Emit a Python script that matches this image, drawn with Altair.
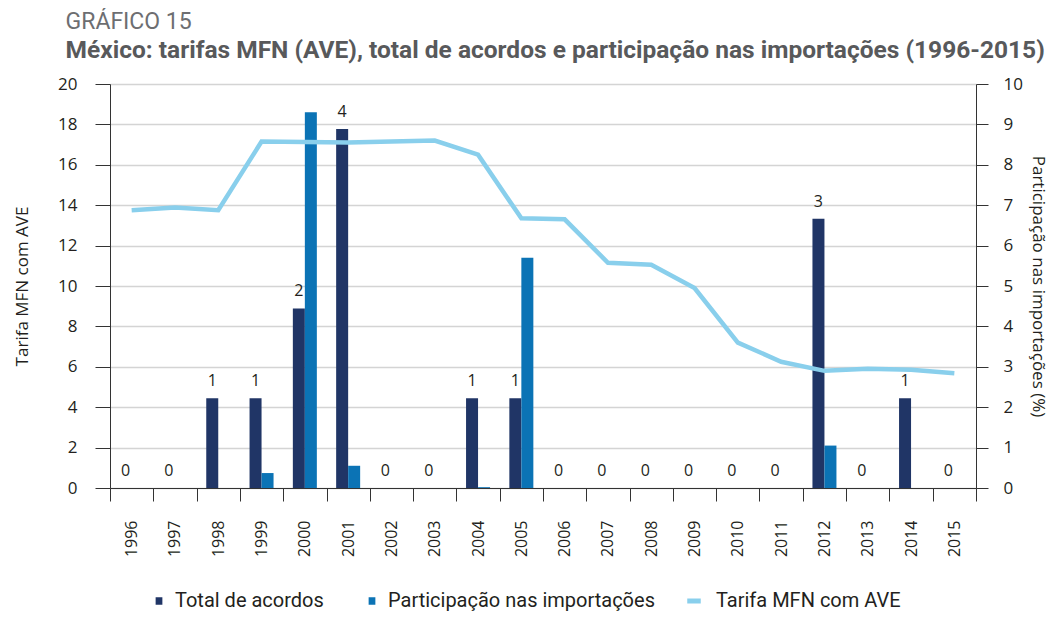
import altair as alt
import pandas as pd

years = ["1996", "1997", "1998", "1999", "2000", "2001", "2002", "2003", "2004", "2005",
         "2006", "2007", "2008", "2009", "2010", "2011", "2012", "2013", "2014", "2015"]
acordos = [0, 0, 1, 1, 2, 4, 0, 0, 1, 1, 0, 0, 0, 0, 0, 0, 3, 0, 1, 0]
participacao = [0, 0, 0, 0.37, 9.3, 0.55, 0, 0, 0.02, 5.7, 0, 0, 0, 0, 0, 0, 1.05, 0, 0, 0]
tarifa = [13.75, 13.88, 13.75, 17.15, 17.13, 17.1, 17.15, 17.2, 16.5, 13.35,
          13.3, 11.15, 11.05, 9.9, 7.2, 6.25, 5.8, 5.9, 5.85, 5.68]

bar_names = ["Total de acordos", "Participação nas importações"]
bar_colors = ["#203566", "#0b73b5"]
line_names = ["Tarifa MFN com AVE"]
line_colors = ["#89cfec"]

df = pd.DataFrame({"ano": years, "acordos": acordos,
                   "participacao": participacao, "tarifa": tarifa})

FONT = "Open Sans"
NARROW = "Roboto"
TXT = "#231f20"

fill_scale = alt.Scale(domain=bar_names, range=bar_colors)
stroke_scale = alt.Scale(domain=line_names, range=line_colors)

bar_legend = alt.Legend(
    title=None, orient="none", legendX=39, legendY=507, direction="horizontal",
    columnPadding=38, labelFont=NARROW, labelFontSize=20, labelColor=TXT,
    labelOffset=6, labelLimit=400, symbolSize=225,
    symbolType="M-0.45,-0.5H0.45V0.5H-0.45Z", symbolStrokeWidth=0, symbolOpacity=1,
)
line_legend = alt.Legend(
    title=None, orient="none", legendX=574, legendY=507, direction="horizontal",
    labelFont=NARROW, labelFontSize=20, labelColor=TXT, labelOffset=12, labelLimit=400,
    symbolSize=225, symbolType="M-0.9,0H0.9", symbolStrokeWidth=5, symbolOpacity=1,
)

x = alt.X("ano:N", sort=years, scale=alt.Scale(paddingInner=0, paddingOuter=0),
          axis=alt.Axis(title=None, labelAngle=-90, tickBand="extent", tickSize=13,
                        labelPadding=19, domainColor="#333333", tickColor="#333333",
                        labelFont=FONT, labelFontSize=16, labelColor=TXT))

base = alt.Chart(df)

y_acordo = alt.Y("acordos:Q", scale=alt.Scale(domain=[0, 4.5]), axis=None)

acordo_bar = base.transform_calculate(serie="'Total de acordos'").mark_bar(
    size=12, xOffset=-6).encode(
    x=x, y=y_acordo,
    fill=alt.Fill("serie:N", scale=fill_scale, legend=bar_legend),
)
acordo_text = base.mark_text(xOffset=-6, dy=-17, font=FONT, fontSize=16, color=TXT).encode(
    x=x, y=y_acordo, text="acordos:Q"
)

part_bar = base.transform_calculate(serie="'Participação nas importações'").mark_bar(
    size=12, xOffset=6).encode(
    x=x,
    y=alt.Y("participacao:Q", scale=alt.Scale(domain=[0, 10]),
            axis=alt.Axis(orient="right", title="Participação nas importações (%)",
                          values=list(range(0, 11)), grid=False, tickSize=12,
                          labelPadding=15, titlePadding=6, domainColor="#333333",
                          tickColor="#333333", labelFont=FONT, labelFontSize=17,
                          labelColor=TXT, titleFont=FONT, titleFontSize=17,
                          titleFontWeight="normal", titleColor=TXT)),
    fill=alt.Fill("serie:N", scale=fill_scale, legend=bar_legend),
)

line = base.transform_calculate(serie="'Tarifa MFN com AVE'").mark_line(
    strokeWidth=4.5).encode(
    x=x,
    y=alt.Y("tarifa:Q", scale=alt.Scale(domain=[0, 20]),
            axis=alt.Axis(orient="left", title="Tarifa MFN com AVE",
                          values=list(range(0, 21, 2)), grid=True, gridColor="#d4d4d4",
                          gridWidth=1.5, tickSize=15, labelPadding=18, titlePadding=26,
                          domainColor="#333333", tickColor="#333333", labelFont=FONT,
                          labelFontSize=17, labelColor=TXT, titleFont=FONT,
                          titleFontSize=17, titleFontWeight="normal", titleColor=TXT)),
    stroke=alt.Stroke("serie:N", scale=stroke_scale, legend=line_legend),
)

chart = alt.layer(
    alt.layer(acordo_bar, acordo_text), part_bar, line
).resolve_scale(y="independent").properties(
    width=866, height=404,
    padding={"left": 5, "top": 2, "right": 4, "bottom": 0},
    title=alt.TitleParams(
        text="GRÁFICO 15",
        subtitle="México: tarifas MFN (AVE), total de acordos e participação nas importações (1996-2015)",
        anchor="start", dx=52, font=NARROW, fontSize=23, fontWeight="normal",
        color="#6d6e71", subtitleFont=NARROW, subtitleFontSize=24.5,
        subtitleFontWeight="bold", subtitleColor="#58595b", subtitlePadding=5, offset=13,
    ),
).configure_view(strokeWidth=0)

chart.save("out.html", embed_options={"renderer": "svg", "actions": False})
